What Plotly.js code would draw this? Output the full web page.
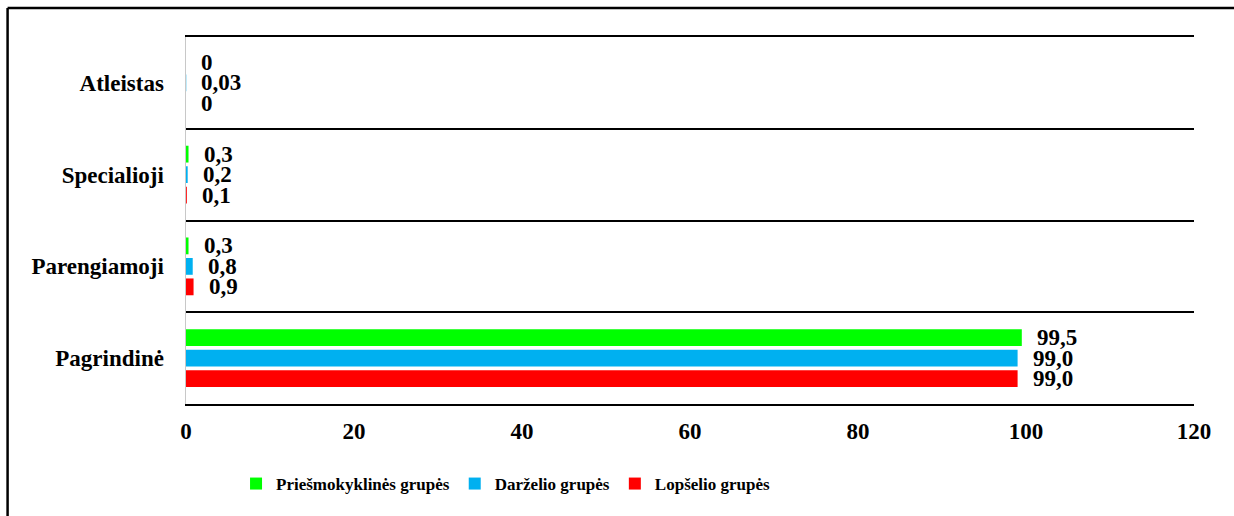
<!DOCTYPE html>
<html>
<head>
<meta charset="utf-8">
<script src="https://cdn.plot.ly/plotly-3.0.1.min.js"></script>
<style>html,body{margin:0;padding:0;background:#fff;}#chart{width:1234px;height:516px;}</style>
</head>
<body>
<div id="chart"></div>
<script>
const categories = ['Pagrindinė', 'Parengiamoji', 'Specialioji', 'Atleistas'];
const seriesNames = ['Lopšelio grupės', 'Darželio grupės', 'Priešmokyklinės grupės'];
const lopselisValues = [99.0, 0.9, 0.1, 0];
const darzelisValues = [99.0, 0.8, 0.2, 0.03];
const priesmokValues = [99.5, 0.3, 0.3, 0];
const lopselisLabels = ['99,0', '0,9', '0,1', '0'];
const darzelisLabels = ['99,0', '0,8', '0,2', '0,03'];
const priesmokLabels = ['99,5', '0,3', '0,3', '0'];
const xTicks = [0, 20, 40, 60, 80, 100, 120];

const colors = ['#ff0000', '#00b0f0', '#00ff00'];
const FONT = 'Liberation Serif, Times New Roman, serif';
const bargap = 0.33;

const values = [lopselisValues, darzelisValues, priesmokValues];
const labels = [lopselisLabels, darzelisLabels, priesmokLabels];

const traces = values.map((vals, k) => ({
  type: 'bar',
  orientation: 'h',
  name: seriesNames[k],
  y: categories,
  x: vals,
  marker: {color: colors[k], line: {width: 0}},
  hoverinfo: 'skip'
}));

const annotations = [];
values.forEach((vals, k) => {
  const off = (k - 1) * (1 - bargap) / 3;
  vals.forEach((v, i) => {
    annotations.push({
      x: v, y: i + off, xref: 'x', yref: 'y',
      text: labels[k][i], showarrow: false,
      xanchor: 'left', yanchor: 'middle', xshift: 13,
      font: {family: FONT, size: 23, color: '#000', weight: 700}
    });
  });
});

const layout = {
  width: 1234, height: 516,
  margin: {l: 186, r: 40, t: 37, b: 112},
  paper_bgcolor: '#fff', plot_bgcolor: '#fff',
  font: {family: FONT, size: 23, color: '#000', weight: 700},
  barmode: 'group', bargap: bargap, bargroupgap: 0.18,
  showlegend: true,
  legend: {
    orientation: 'h', traceorder: 'reversed',
    x: 0.317, xanchor: 'center', y: -0.218, yanchor: 'middle',
    font: {family: FONT, size: 17, color: '#000', weight: 700},
    itemwidth: 30
  },
  xaxis: {
    range: [0, 120], tickvals: xTicks, ticktext: xTicks.map(String),
    showgrid: false, zeroline: false,
    showline: true, linecolor: '#000', linewidth: 2, mirror: true,
    ticks: 'outside', ticklen: 5, tickcolor: 'rgba(0,0,0,0)',
    tickfont: {family: FONT, size: 23, color: '#000', weight: 700},
    fixedrange: true
  },
  yaxis: {
    type: 'category', categoryorder: 'array', categoryarray: categories,
    tickson: 'boundaries', showgrid: true, gridcolor: '#000', gridwidth: 2,
    showline: true, linecolor: '#c8c8c8', linewidth: 1.5,
    ticks: '', ticklabelstandoff: 16,
    tickfont: {family: FONT, size: 23, color: '#000', weight: 700},
    zeroline: false, fixedrange: true
  },
  annotations: annotations,
  shapes: [
    {type: 'line', xref: 'paper', yref: 'paper', x0: -0.177, x1: 1.1, y0: 1.079, y1: 1.079,
     line: {color: '#000', width: 2.5}},
    {type: 'line', xref: 'paper', yref: 'paper', x0: -0.177, x1: -0.177, y0: 1.079, y1: -0.4,
     line: {color: '#000', width: 2.5}}
  ]
};

Plotly.newPlot('chart', traces, layout, {displayModeBar: false, staticPlot: true});
</script>
</body>
</html>
